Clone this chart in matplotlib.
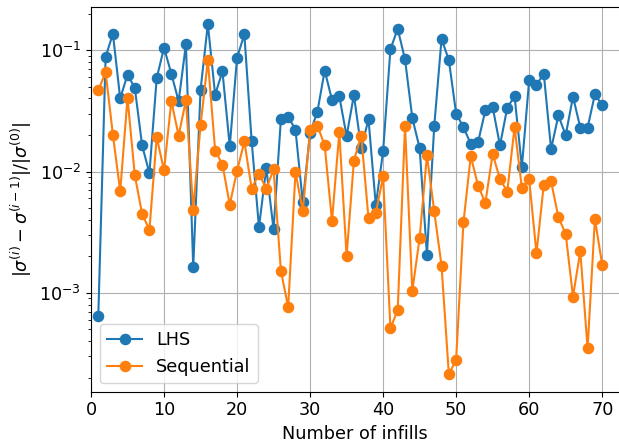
import matplotlib
matplotlib.use("Agg")
import matplotlib.pyplot as plt
import numpy as np

infills = list(range(1, 71))

lhs = [6.4e-4, 0.088, 0.137, 0.040, 0.063, 0.049, 0.0164, 0.0097, 0.059, 0.105,
       0.064, 0.038, 0.112, 0.00162, 0.047, 0.164, 0.043, 0.067, 0.0161, 0.087,
       0.135, 0.0178, 0.00347, 0.0107, 0.00334, 0.0269, 0.0283, 0.0221, 0.0056, 0.0209,
       0.0311, 0.068, 0.039, 0.0417, 0.0196, 0.0427, 0.0156, 0.0269, 0.00527, 0.0147,
       0.102, 0.150, 0.084, 0.0276, 0.0156, 0.00206, 0.0236, 0.124, 0.083, 0.030,
       0.0232, 0.0169, 0.0175, 0.0319, 0.034, 0.0164, 0.0336, 0.0417, 0.0109, 0.057,
       0.052, 0.064, 0.0153, 0.029, 0.0199, 0.0414, 0.023, 0.023, 0.0433, 0.0353]

sequential = [0.0467, 0.066, 0.0201, 0.00687, 0.0404, 0.0093, 0.00447, 0.0033, 0.0192, 0.0102,
              0.038, 0.0198, 0.0386, 0.00485, 0.024, 0.083, 0.0149, 0.0114, 0.00533, 0.0101,
              0.0177, 0.0072, 0.0096, 0.0072, 0.0104, 0.00152, 7.6e-4, 0.0099, 0.0047, 0.0218,
              0.0239, 0.0164, 0.0039, 0.0211, 0.00201, 0.0123, 0.0198, 0.00411, 0.00456, 0.0091,
              5.1e-4, 7.2e-4, 0.0237, 0.00104, 0.00283, 0.0136, 0.0047, 0.00167, 2.13e-4, 2.8e-4,
              0.0038, 0.0134, 0.00766, 0.0055, 0.014, 0.00865, 0.00684, 0.0232, 0.0073, 0.00865,
              0.00211, 0.0078, 0.0083, 0.0042, 0.00306, 9.3e-4, 0.0022, 3.47e-4, 0.00406, 0.0017]

plt.rcParams['font.size'] = 12.7

fig = plt.figure(figsize=(6.19, 4.43), dpi=100)
ax = fig.add_axes([0.147, 0.1158, 0.853, 0.8691])

ax.plot(infills, lhs, '-o', color='#1f77b4', lw=1.5, ms=7.3, label='LHS')
ax.plot(infills, sequential, '-o', color='#ff7f0e', lw=1.5, ms=7.3, label='Sequential')
ax.set_yscale('log')
ax.set_xlim(0, 72.3)
ax.grid(True, which='major', color='#b0b0b0', lw=0.8)
ax.spines['right'].set_visible(False)
ax.set_xlabel('Number of infills')
ax.set_ylabel(r'$|\sigma^{(i)} - \sigma^{(i-1)}|/|\sigma^{(0)}|$')
ax.legend(loc='lower left')

fig.savefig('out.png', dpi=100)
